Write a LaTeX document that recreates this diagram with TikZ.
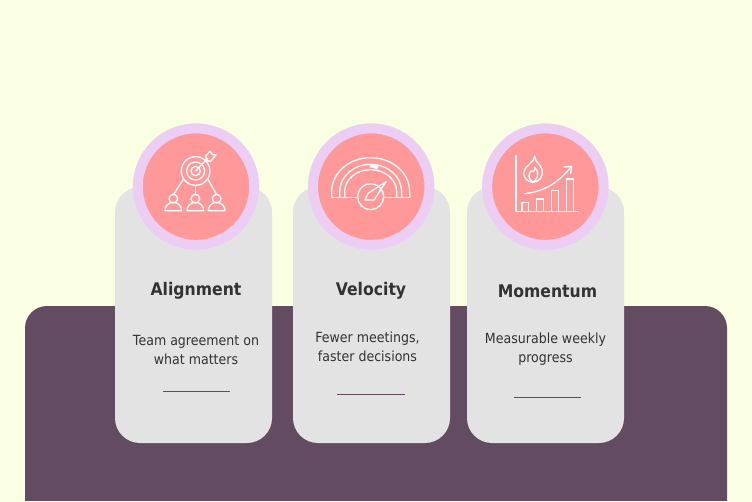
\documentclass[tikz,border=0pt]{standalone}
\usepackage{fontspec}
\setmainfont{DejaVu Sans}[FakeStretch=0.9]
\definecolor{bgc}{HTML}{FAFFE4}
\definecolor{panelc}{HTML}{634C62}
\definecolor{cardc}{HTML}{E3E3E3}
\definecolor{ringc}{HTML}{ECCEF5}
\definecolor{discc}{HTML}{FF9999}
\definecolor{txtc}{HTML}{333333}
\tikzset{
  cardbox/.style={fill=cardc,draw=none,rounded corners=25pt},
  ringdisc/.style={circle,fill=discc,draw=ringc,line width=10pt,minimum size=116.5pt,inner sep=0pt},
  titletxt/.style={font=\fontsize{17.4}{20}\selectfont\bfseries,text=txtc,anchor=center,inner sep=0pt},
  bodytxt/.style={font=\fontsize{14}{19}\selectfont,text=txtc,align=center,anchor=center,inner sep=0pt},
  rulel/.style={draw=panelc,line width=1pt},
  ic/.style={draw=white,line width=1.3pt,line cap=round,line join=round},
}
\begin{document}
\begin{tikzpicture}[x=1pt,y=-1pt]
\useasboundingbox (0,0) rectangle (752,501);
\fill[bgc] (0,0) rectangle (752,501);
\fill[panelc,rounded corners=22pt] (25,540) -- (25,306) -- (727,306) -- (727,540) -- cycle;
\fill[bgc] (0,501) rectangle (752,540);
% cards
\fill[cardbox] (115,187) rectangle (272,443);
\fill[cardbox] (293,187) rectangle (450,443);
\fill[cardbox] (467,187) rectangle (624,443);
% discs
\node[ringdisc] (d1) at (196,186.6) {};
\node[ringdisc] (d2) at (371.2,186.6) {};
\node[ringdisc] (d3) at (545.4,186.6) {};
% icon 1
\begin{scope}[shift={(130,120)},scale=0.3333,ic]
\draw (197,153) circle (43);
\draw (197,153) circle (27);
\draw (197,153) circle (14);
\draw (197,153) -- (234,114);
\draw (227,108) -- (240,94) -- (248,104) -- (258,104) -- (242,124) -- (230,122) -- cycle;
\draw (160,178) -- (130,224);
\draw (197,196) -- (197,224);
\draw (234,178) -- (260,224);
\foreach \x in {130,196,260}{
  \draw (\x,236) circle (13);
  \draw (\x-25,272) arc[start angle=180,end angle=360,radius=25] -- cycle;
}
\end{scope}
% icon 2
\begin{scope}[shift={(304,120)},scale=0.3333,ic]
\draw (83,232) -- (83,215) arc[start angle=180,end angle=360,x radius=117,y radius=102] -- (317,232);
\draw (83,232) -- (157,232);
\draw (240,232) -- (317,232);
\draw (107,232) -- (107,215) arc[start angle=180,end angle=360,x radius=93,y radius=82] -- (293,232);
\draw (122,232) -- (122,215) arc[start angle=180,end angle=360,x radius=78,y radius=66] -- (278,232);
\draw[line width=3pt,line cap=butt] (198,137) -- (222,143);
\draw (200,230) circle (39);
\draw (183,240) -- (192,220) -- (246,185) -- (210,240) -- cycle;
\end{scope}
% icon 3
\begin{scope}[shift={(478,120)},scale=0.3333,ic]
\draw (114,106) -- (114,274) -- (302,274);
\draw (132,274) -- (132,248) -- (152,248) -- (152,274);
\draw (175,274) -- (175,237) -- (196,237) -- (196,274);
\draw (220,274) -- (220,212) -- (242,212) -- (242,274);
\draw (265,274) -- (265,177) -- (286,177) -- (286,274);
\draw (140,221) .. controls (195,215) and (240,190) .. (278,142);
\draw (258,141) -- (281,139) -- (278,162);
\draw (170,108) .. controls (172,125) and (140,135) .. (137,160) .. controls (137,175) and (152,187) .. (165,187) .. controls (185,185) and (197,170) .. (192,148) .. controls (190,135) and (170,125) .. (170,108) -- cycle;
\draw (165,187) .. controls (150,178) and (150,160) .. (160,152) .. controls (165,160) and (172,150) .. (170,142) .. controls (180,150) and (187,170) .. (165,187);
\end{scope}
% text
\node[titletxt] (t1) at (196,291) {Alignment};
\node[titletxt] (t2) at (371,291) {Velocity};
\node[titletxt] (t3) at (547.5,291) {Momentum};
\node[bodytxt] (b1) at (196,349.5) {Team agreement on\\what matters};
\node[bodytxt] (b2) at (367.5,346.5) {Fewer meetings,\\faster decisions};
\node[bodytxt] (b3) at (545.5,349.5) {Measurable weekly\\progress};
\draw[rulel] (163,391) -- (230,391);
\draw[rulel] (337,394.5) -- (405,394.5);
\draw[rulel] (514,397) -- (581,397);
\end{tikzpicture}
\end{document}
